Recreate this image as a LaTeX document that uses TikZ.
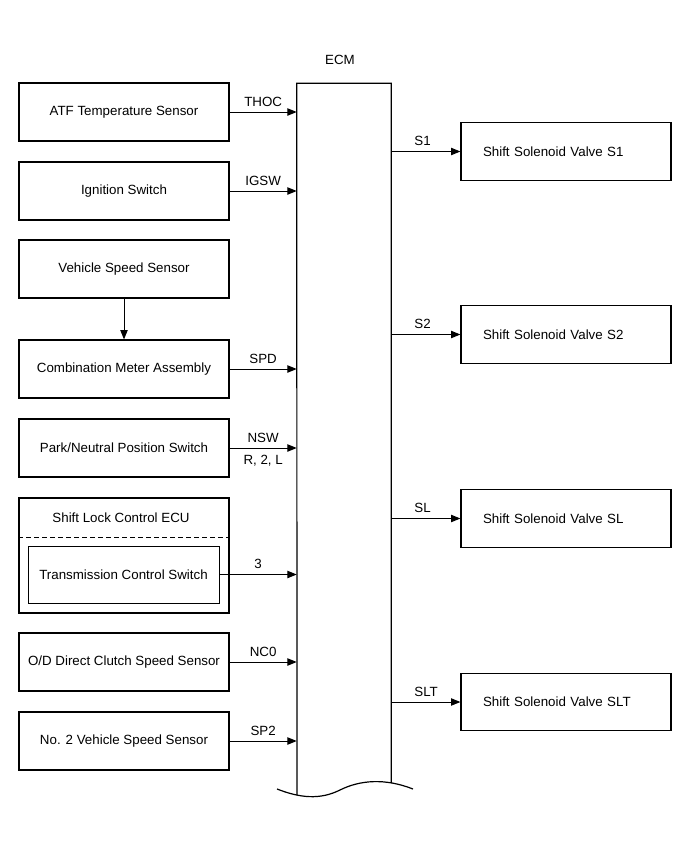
\documentclass[tikz,border=0pt]{standalone}
\usepackage{fontspec}
\setmainfont{Liberation Sans}
\usetikzlibrary{arrows.meta}

\begin{document}
\begin{tikzpicture}[
        x=0.75pt,
        y=-0.75pt,
        every node/.style={font=\fontsize{10}{12}\selectfont},
        lbox/.style={
            rectangle,
            draw,
            line width=0.9pt,
            minimum width=157.5pt,
            minimum height=43.5pt,
            inner sep=1pt
        },
        rbox/.style={
            rectangle,
            draw,
            line width=0.9pt,
            minimum width=157.5pt,
            minimum height=43pt,
            inner xsep=16.5pt,
            text width=124.5pt,
            align=left
        },
        signal/.style={-{Triangle[length=7pt,width=5.5pt]}, line width=0.75pt},
        sig label/.style={midway, above, inner sep=4pt},
        out label/.style={pos=0.25, anchor=south west, inner sep=4pt}
    ]
    \useasboundingbox (0,0) rectangle (690,854);

    % ECM
    \node[minimum width=70.5pt, minimum height=524.25pt, inner sep=0pt] (ecm) at (344,433) {};
    \node (ecmname) at (340,60) {ECM};
    \draw[line width=0.9pt] (ecm.south east) |- (ecm.north west) -- (297,795);
    \draw[line width=0.9pt] (277,789) .. controls (300,798) and (320,800) .. (340,790)
        .. controls (360,780) and (385,778) .. (413,789);

    % Inputs
    \node[lbox] (atf) at (124,112) {ATF Temperature Sensor};
    \draw[signal] (atf) -- node[sig label] {THOC} (atf -| ecm.west);

    \node[lbox] (ign) at (124,191) {Ignition Switch};
    \draw[signal] (ign) -- node[sig label] {IGSW} (ign -| ecm.west);

    \node[lbox] (vss) at (124,269) {Vehicle Speed Sensor};
    \node[lbox] (meter) at (124,369) {Combination Meter Assembly};
    \draw[signal] (vss) -- (meter);
    \draw[signal] (meter) -- node[sig label] {SPD} (meter -| ecm.west);

    \node[lbox] (pnp) at (124,448) {Park/Neutral Position Switch};
    \draw[signal] (pnp) -- node[sig label] {NSW} node[midway, below, inner sep=5pt] {R, 2, L} (pnp -| ecm.west);

    \node[lbox, minimum height=86.25pt] (slock) at (124,555.5) {};
    \node (slockname) at (121,518) {Shift Lock Control ECU};
    \draw[line width=0.7pt, dash pattern=on 3.5pt off 2.5pt] (slock.west |- 0,537) -- (slock.east |- 0,537);
    \node[lbox, line width=0.7pt, minimum width=143.25pt, minimum height=42.75pt] (tcs) at (123.5,574.5) {Transmission Control Switch};
    \draw[signal] (tcs) -- node[sig label] {3} (tcs -| ecm.west);

    \node[lbox] (odc) at (124,662) {O/D Direct Clutch Speed Sensor};
    \draw[signal] (odc) -- node[sig label] {NC0} (odc -| ecm.west);

    \node[lbox] (vss2) at (124,741) {No. 2 Vehicle Speed Sensor};
    \draw[signal] (vss2) -- node[sig label] {SP2} (vss2 -| ecm.west);

    % Outputs
    \node[rbox] (s1) at (566,151.5) {Shift Solenoid Valve S1};
    \draw[signal] (s1 -| ecm.east) -- node[out label] {S1} (s1);

    \node[rbox] (s2) at (566,334.5) {Shift Solenoid Valve S2};
    \draw[signal] (s2 -| ecm.east) -- node[out label] {S2} (s2);

    \node[rbox] (sl) at (566,518.5) {Shift Solenoid Valve SL};
    \draw[signal] (sl -| ecm.east) -- node[out label] {SL} (sl);

    \node[rbox] (slt) at (566,702) {Shift Solenoid Valve SLT};
    \draw[signal] (slt -| ecm.east) -- node[out label] {SLT} (slt);

\end{tikzpicture}
\end{document}
